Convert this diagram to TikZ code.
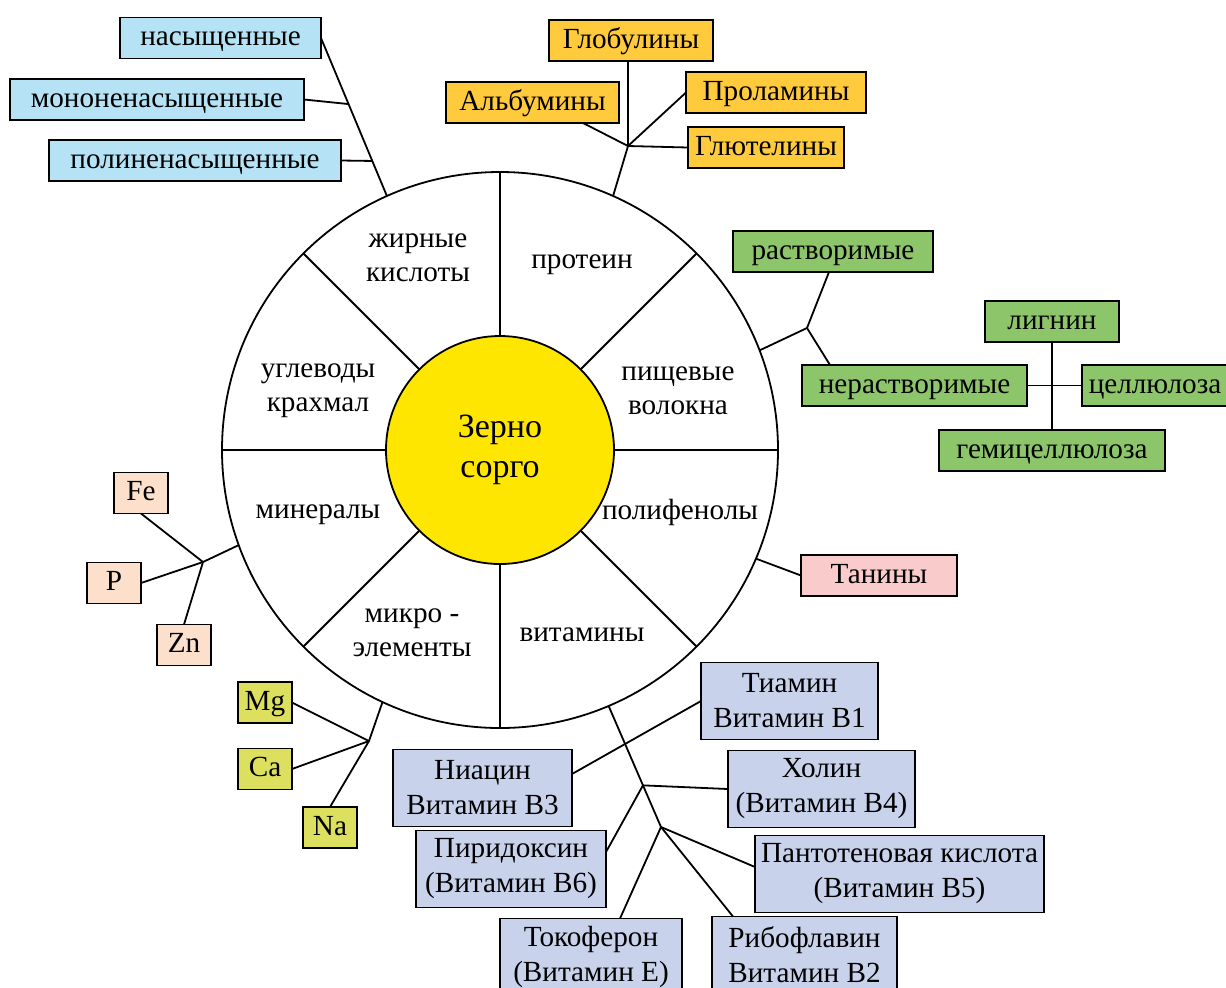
\documentclass[tikz,border=0pt]{standalone}
\usepackage{fontspec}
\setmainfont{Liberation Serif}
\newfontfamily\diagfont{Liberation Serif}
\usetikzlibrary{calc}

\definecolor{fatblue}{HTML}{B5E3F5}
\definecolor{protorange}{HTML}{FFCB3C}
\definecolor{fibgreen}{HTML}{8DC56A}
\definecolor{tanpink}{HTML}{F9CCCB}
\definecolor{minpeach}{HTML}{FCE0CB}
\definecolor{micolive}{HTML}{DDE05E}
\definecolor{vitlav}{HTML}{C8D2EB}
\definecolor{grainyellow}{HTML}{FFE600}

\tikzset{
  boxbase/.style={draw, fill=#1, inner sep=0pt, outer sep=0pt,
    font=\diagfont\fontsize{14.6}{17.5}\selectfont},
  comp/.style={boxbase=#1, minimum height=20.5pt, text height=11.2pt, text depth=3.6pt},
  vit/.style={boxbase=vitlav, minimum height=38.5pt, align=center},
  lbl/.style={font=\diagfont\fontsize{14.6}{17}\selectfont, align=center}
}

\begin{document}
\begin{tikzpicture}[x=0.5pt, y=-0.5pt, line width=0.9pt]

    \useasboundingbox (0,0) rectangle (1226,987);

    % Grain wheel
    \node[circle, draw, minimum size=278pt, outer sep=0pt]             (outer) at (500,450) {};
    \node[circle, draw, fill=grainyellow, minimum size=114pt, outer sep=0pt,
          font=\diagfont\fontsize{17}{20}\selectfont, align=center]     (grain) at (500,450) {Зерно\\сорго};
    \foreach \a in {0,45,...,315}
      \draw (grain.\a) -- (outer.\a);

    % Sector labels
    \node[lbl] (fat)   at (418,258) {жирные\\кислоты};
    \node[lbl] (prot)  at (582,265) {протеин};
    \node[lbl] (fib)   at (678,391) {пищевые\\волокна};
    \node[lbl] (poly)  at (680,512) {полифенолы};
    \node[lbl] (vitam) at (582,635) {витамины};
    \node[lbl] (micro) at (412,633) {микро -\\элементы};
    \node[lbl] (miner) at (318,515) {минералы};
    \node[lbl] (carb)  at (318,391) {углеводы\\крахмал};

    % Points on the rim
    \coordinate (cfat)  at (outer.114);
    \coordinate (cprot) at (outer.66.5);
    \coordinate (cfib)  at (outer.21.5);
    \coordinate (cpoly) at (outer.337.2);
    \coordinate (cvit)  at (outer.293.3);
    \coordinate (cmic)  at (outer.245.6);
    \coordinate (cmin)  at (outer.200.4);

    % Fatty acids
    \node[comp=fatblue, minimum width=100.5pt] (sat)   at (220.5,38)  {насыщенные};
    \node[comp=fatblue, minimum width=147pt]   (mono)  at (157,99.5)  {мононенасыщенные};
    \node[comp=fatblue, minimum width=146pt]   (pufa)  at (195,160.5) {полиненасыщенные};

    % Proteins
    \node[comp=protorange, minimum width=82pt]   (glob) at (631,40.5)  {Глобулины};
    \node[comp=protorange, minimum width=86.5pt] (alb)  at (532.5,102.5) {Альбумины};
    \node[comp=protorange, minimum width=90pt]   (prol) at (776,92.5)  {Проламины};
    \node[comp=protorange, minimum width=78pt]   (glut) at (766,147.5) {Глютелины};

    % Dietary fibre
    \node[comp=fibgreen, minimum width=100pt]   (sol)   at (833,251.5)  {растворимые};
    \node[comp=fibgreen, minimum width=112.5pt] (insol) at (914.5,385.5) {нерастворимые};
    \node[comp=fibgreen, minimum width=67pt]    (lign)  at (1052,321.5) {лигнин};
    \node[comp=fibgreen, minimum width=73pt]    (cell)  at (1155,385.5) {целлюлоза};
    \node[comp=fibgreen, minimum width=113pt]   (hemi)  at (1052,450.5) {гемицеллюлоза};

    % Polyphenols
    \node[comp=tanpink, minimum width=78pt] (tan) at (879,575.5) {Танины};

    % Minerals
    \node[comp=minpeach, minimum width=27pt] (fe) at (141,493) {Fe};
    \node[comp=minpeach, minimum width=27pt] (p)  at (114,583) {P};
    \node[comp=minpeach, minimum width=27pt] (zn) at (184,645) {Zn};

    % Microelements
    \node[comp=micolive, minimum width=27pt] (mg) at (265,702.5) {Mg};
    \node[comp=micolive, minimum width=27pt] (ca) at (265,769)   {Ca};
    \node[comp=micolive, minimum width=27pt] (na) at (330,827.5) {Na};

    % Vitamins
    \node[vit, minimum width=88.5pt]  (thia)  at (789.5,701) {Тиамин\\Витамин B1};
    \node[vit, minimum width=89.5pt]  (niac)  at (482.5,788) {Ниацин\\Витамин B3};
    \node[vit, minimum width=93.5pt]  (chol)  at (821.5,789) {Холин\\(Витамин B4)};
    \node[vit, minimum width=95pt]    (pyri)  at (511,869)   {Пиридоксин\\(Витамин B6)};
    \node[vit, minimum width=144.5pt] (pant)  at (899.5,874) {Пантотеновая кислота\\(Витамин B5)};
    \node[vit, minimum width=91pt]    (toco)  at (591,957)   {Токоферон\\(Витамин E)};
    \node[vit, minimum width=92.5pt]  (ribo)  at (804.5,955) {Рибофлавин\\Витамин B2};

    % Junctions
    \coordinate (jmono) at ($(cfat)!0.582!(sat.east)$);
    \coordinate (jpufa) at ($(cfat)!0.222!(sat.east)$);
    \coordinate (jprot) at (628,146);
    \coordinate (jfib)  at (807,328);
    \coordinate (jmin)  at (203,562);
    \coordinate (jmic)  at (369,741);
    \coordinate (jvit2) at (661,827);
    \coordinate (jvit1) at ($(cvit)!0.656!(jvit2)$);

    % Connect the nodes
    \draw (cfat) -- (sat.east);
    \draw (mono.east) -- (jmono);
    \draw (pufa.east) -- (jpufa);

    \draw (cprot) -- (jprot);
    \draw (jprot) -- (jprot |- glob.south);
    \draw (jprot) -- ([xshift=-18pt]alb.south east);
    \draw (jprot) -- (prol.west);
    \draw (jprot) -- (glut.west);

    \draw (cfib) -- (jfib);
    \draw (jfib) -- ([xshift=-2pt]sol.south);
    \draw (jfib) -- ([xshift=14pt]insol.north west);
    \draw (insol.east) -- (cell.west);
    \draw (lign.south) -- (hemi.north);

    \draw (cpoly) -- (tan.west);

    \draw (cmin) -- (jmin);
    \draw (jmin) -- (fe.south);
    \draw (jmin) -- (p.east);
    \draw (jmin) -- (zn.north);

    \draw (cmic) -- (jmic);
    \draw (jmic) -- (mg.east);
    \draw (jmic) -- (ca.east);
    \draw (jmic) -- (na.north);

    \draw (cvit) -- (jvit1) -- (jvit2);
    \draw (jvit1) -- (chol.west);
    \draw (jvit1) -- ([yshift=8.5pt]pyri.east);
    \draw (jvit2) -- ([xshift=14.5pt]toco.north);
    \draw (jvit2) -- ([xshift=10.5pt]ribo.north west);
    \draw (jvit2) -- ([yshift=3.5pt]pant.west);
    \draw ([yshift=7pt]niac.east) -- (thia.west);

\end{tikzpicture}
\end{document}
